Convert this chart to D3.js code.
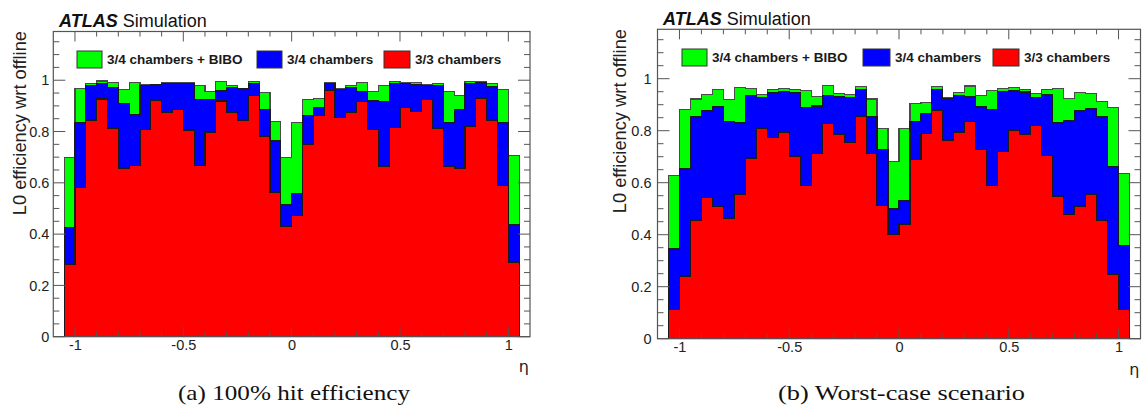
<!DOCTYPE html>
<html><head><meta charset="utf-8">
<script src="https://cdn.jsdelivr.net/npm/d3@7"></script>
<style>
html,body{margin:0;padding:0;background:#fff;}
svg{display:block;}
</style>
</head><body>
<svg id="chart" width="1142" height="406"></svg>
<script>
// ---- data ----
const etaEdges = [-1.05,-1.0,-0.95,-0.9,-0.85,-0.8,-0.75,-0.7,-0.65,-0.6,-0.55,-0.5,-0.45,-0.4,-0.35,-0.3,-0.25,-0.2,-0.15,-0.1,-0.05,0,0.05,0.1,0.15,0.2,0.25,0.3,0.35,0.4,0.45,0.5,0.55,0.6,0.65,0.7,0.75,0.8,0.85,0.9,0.95,1.0,1.05];

const seriesNames = ["3/4 chambers + BIBO", "3/4 chambers", "3/3 chambers"];

// panel (a) 100% hit efficiency
const greenA = [0.699,0.966,0.987,0.997,0.992,0.964,0.990,0.984,0.984,0.992,0.992,0.990,0.979,0.955,0.994,0.978,0.969,0.994,0.953,0.838,0.699,
                0.834,0.925,0.930,0.992,0.966,0.978,0.990,0.956,0.978,0.994,0.992,0.990,0.984,0.986,0.955,0.939,0.996,0.995,0.987,0.964,0.705];
const blueA  = [0.426,0.834,0.979,0.987,0.971,0.909,0.868,0.979,0.982,0.988,0.988,0.987,0.926,0.926,0.961,0.971,0.966,0.987,0.887,0.764,0.517,
                0.558,0.862,0.894,0.987,0.964,0.971,0.956,0.921,0.917,0.987,0.987,0.984,0.979,0.979,0.834,0.887,0.987,0.991,0.977,0.834,0.439];
const redA   = [0.281,0.582,0.845,0.927,0.812,0.656,0.668,0.808,0.922,0.874,0.887,0.806,0.669,0.798,0.919,0.874,0.844,0.942,0.782,0.562,0.429,
                0.474,0.749,0.861,0.960,0.853,0.875,0.916,0.808,0.662,0.814,0.895,0.878,0.926,0.812,0.662,0.656,0.818,0.929,0.844,0.588,0.290];

// panel (b) worst-case scenario
const greenB = [0.627,0.882,0.922,0.940,0.959,0.921,0.965,0.962,0.938,0.959,0.962,0.960,0.953,0.931,0.973,0.942,0.938,0.969,0.922,0.810,0.683,
                0.809,0.905,0.908,0.969,0.927,0.946,0.972,0.936,0.956,0.964,0.965,0.959,0.942,0.959,0.964,0.924,0.947,0.942,0.914,0.888,0.635];
const blueB  = [0.345,0.654,0.856,0.876,0.892,0.835,0.831,0.937,0.926,0.947,0.950,0.946,0.890,0.895,0.936,0.933,0.928,0.959,0.853,0.729,0.499,
                0.533,0.836,0.867,0.959,0.923,0.936,0.931,0.891,0.883,0.951,0.954,0.949,0.927,0.938,0.831,0.838,0.877,0.885,0.854,0.664,0.360];
const redB   = [0.113,0.241,0.456,0.544,0.510,0.462,0.554,0.695,0.809,0.773,0.794,0.700,0.588,0.712,0.828,0.785,0.755,0.856,0.714,0.512,0.400,
                0.441,0.690,0.790,0.877,0.763,0.795,0.836,0.729,0.590,0.721,0.801,0.787,0.821,0.706,0.549,0.478,0.509,0.554,0.456,0.247,0.114];

const xTickValues = [-1, -0.5, 0, 0.5, 1];
const xTickLabels = ["-1", "-0.5", "0", "0.5", "1"];
const yTickValues = [0, 0.2, 0.4, 0.6, 0.8, 1];
const yTickLabels = ["0", "0.2", "0.4", "0.6", "0.8", "1"];
const xDomain = [-1.1, 1.1];
const yDomain = [0, 1.19];
const captions = ["(a) 100% hit efficiency", "(b) Worst-case scenario"];
const yTitle = "L0 efficiency wrt offline";
const xTitle = "η";

// ---- styles ----
const fills = ["#00ff00", "#0000ff", "#ff0000"];
const strokes = ["#4a4a4a", "#1a1a1a", "#1a1a1a"];
const frameColor = "#555";
const sans = "'Liberation Sans', Arial, Helvetica, sans-serif";

const svg = d3.select("#chart");

function drawPanel(cfg) {
  const x = d3.scaleLinear().domain(xDomain).range([cfg.left, cfg.right]);
  const y = d3.scaleLinear().domain(yDomain).range([cfg.bottom, cfg.top]);
  const g = svg.append("g");

  // histograms: green, blue, red overlaid
  cfg.series.forEach((vals, si) => {
    let line = `M${x(etaEdges[0])},${y(0)}`;
    vals.forEach((v, i) => {
      line += `L${x(etaEdges[i])},${y(v)}L${x(etaEdges[i+1])},${y(v)}`;
    });
    line += `L${x(etaEdges[etaEdges.length-1])},${y(0)}`;
    g.append("path").attr("d", line + "Z").attr("fill", fills[si]).attr("stroke", "none");
    g.append("path").attr("d", line).attr("fill", "none")
      .attr("stroke", strokes[si]).attr("stroke-width", 1.1).attr("shape-rendering", "crispEdges");
  });

  // frame
  g.append("rect").attr("x", cfg.left).attr("y", cfg.top)
    .attr("width", cfg.right - cfg.left).attr("height", cfg.bottom - cfg.top)
    .attr("fill", "none").attr("stroke", frameColor).attr("stroke-width", 1.2);

  // x ticks (bottom & top), inward
  const xMinor = d3.range(-11, 12).map(k => k / 10).filter(v => v > xDomain[0] + 1e-9 && v < xDomain[1] - 1e-9);
  const tickG = g.append("g");
  xMinor.forEach(v => {
    const isMajor = xTickValues.some(t => Math.abs(t - v) < 1e-9);
    const len = isMajor ? 10 : 5;
    tickG.append("line").attr("x1", x(v)).attr("x2", x(v)).attr("y1", cfg.bottom).attr("y2", cfg.bottom - len)
      .attr("stroke", frameColor).attr("stroke-width", 1);
    tickG.append("line").attr("x1", x(v)).attr("x2", x(v)).attr("y1", cfg.top).attr("y2", cfg.top + len)
      .attr("stroke", frameColor).attr("stroke-width", 1);
  });
  const xAx = g.append("g").attr("transform", `translate(0,${cfg.bottom})`)
    .call(d3.axisBottom(x).tickValues(xTickValues).tickSize(0).tickPadding(6)
      .tickFormat((d, i) => xTickLabels[i]));
  xAx.select(".domain").remove();
  xAx.selectAll("text").attr("font-family", sans).attr("font-size", 14.5).attr("fill", "#222")
    .attr("dy", "0.71em").attr("y", 3);

  // y ticks (left & right)
  const yMinor = d3.range(0, 24).map(k => k * 0.05).filter(v => v <= yDomain[1] - 1e-9);
  yMinor.forEach(v => {
    const isMajor = yTickValues.some(t => Math.abs(t - v) < 1e-9);
    const len = isMajor ? 12 : 6;
    tickG.append("line").attr("x1", cfg.left).attr("x2", cfg.left + len).attr("y1", y(v)).attr("y2", y(v))
      .attr("stroke", frameColor).attr("stroke-width", 1);
    tickG.append("line").attr("x1", cfg.right).attr("x2", cfg.right - len).attr("y1", y(v)).attr("y2", y(v))
      .attr("stroke", frameColor).attr("stroke-width", 1);
  });
  const yAx = g.append("g").attr("transform", `translate(${cfg.left},0)`)
    .call(d3.axisLeft(y).tickValues(yTickValues).tickSize(0).tickPadding(cfg.yLabelPad)
      .tickFormat((d, i) => yTickLabels[i]));
  yAx.select(".domain").remove();
  yAx.selectAll("text").attr("font-family", sans).attr("font-size", 14.5).attr("fill", "#222");

  // y title
  g.append("text").attr("transform", `translate(${cfg.yTitleX},${cfg.yTitleY}) rotate(-90)`)
    .attr("text-anchor", "end").attr("font-family", sans).attr("font-size", 18.3).attr("fill", "#222")
    .text(yTitle);

  // x title
  g.append("text").attr("x", cfg.right - 1).attr("y", cfg.etaY).attr("text-anchor", "end")
    .attr("font-family", "'DejaVu Sans', sans-serif").attr("font-size", 16).attr("fill", "#222").text(xTitle);

  // ATLAS Simulation
  const t = g.append("text").attr("x", cfg.titleX).attr("y", cfg.titleY)
    .attr("font-family", sans).attr("font-size", 18).attr("fill", "#111");
  t.append("tspan").attr("font-weight", "bold").attr("font-style", "italic").text("ATLAS");
  t.append("tspan").text(" Simulation");

  // legend
  cfg.legend.forEach((L, i) => {
    g.append("rect").attr("x", L.bx).attr("y", cfg.legY).attr("width", L.bw).attr("height", 17)
      .attr("fill", fills[i]).attr("stroke", "#333").attr("stroke-width", 1);
    g.append("text").attr("x", L.tx).attr("y", cfg.legY + 8.5).attr("dy", "0.36em")
      .attr("font-family", sans).attr("font-weight", "bold").attr("font-size", 13.5).attr("fill", "#1a1a1a")
      .text(seriesNames[i]);
  });

  // caption
  svg.append("text").attr("x", cfg.capX).attr("y", 400)
    .attr("font-family", "'Liberation Serif', 'DejaVu Serif', serif").attr("font-size", 21).attr("fill", "#111")
    .attr("textLength", cfg.capW).attr("lengthAdjust", "spacingAndGlyphs")
    .text(cfg.caption);
}

drawPanel({
  left: 53.3, right: 530, top: 31.5, bottom: 336.7,
  series: [greenA, blueA, redA],
  yLabelPad: 4, yTitleX: 26, yTitleY: 31, etaY: 372,
  titleX: 59, titleY: 26.5,
  legY: 51,
  legend: [{bx: 77, bw: 25, tx: 107}, {bx: 257, bw: 25, tx: 287}, {bx: 384, bw: 26, tx: 415}],
  capX: 178, capW: 232, caption: captions[0]
});

drawPanel({
  left: 657.5, right: 1140.5, top: 29.3, bottom: 338.7,
  series: [greenB, blueB, redB],
  yLabelPad: 6, yTitleX: 626, yTitleY: 29, etaY: 375,
  titleX: 663, titleY: 25,
  legY: 49,
  legend: [{bx: 682, bw: 25, tx: 712}, {bx: 863, bw: 27, tx: 895}, {bx: 993, bw: 26, tx: 1024}],
  capX: 778, capW: 247, caption: captions[1]
});
</script>
</body></html>
